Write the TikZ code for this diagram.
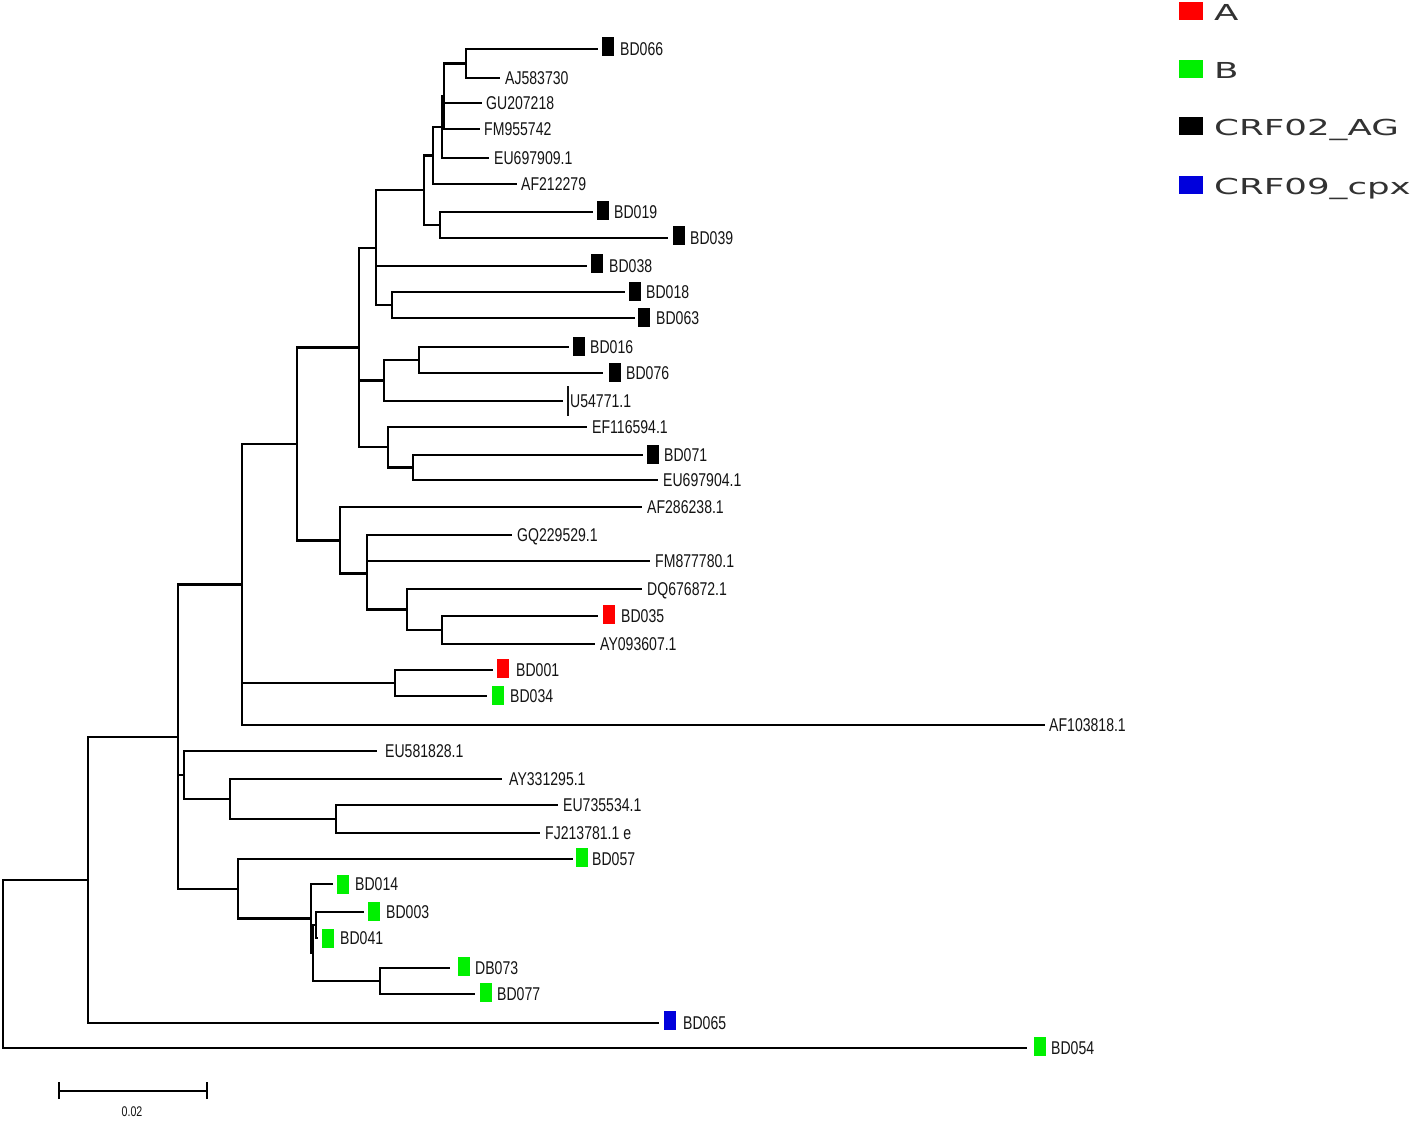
\documentclass[tikz,border=0pt]{standalone}
\usepackage{fontspec}
\setmainfont{Liberation Sans}
\newfontfamily\treefont[FakeStretch=0.76]{Liberation Sans}
\newfontfamily\legfont[FakeStretch=1.62]{DejaVu Sans}
\definecolor{mkred}{RGB}{255,0,0}
\definecolor{mkgreen}{RGB}{0,240,0}
\definecolor{mkblue}{RGB}{0,0,220}
\definecolor{mkblack}{RGB}{0,0,0}
\definecolor{labgray}{RGB}{20,20,20}
\definecolor{leggray}{RGB}{50,50,50}
\begin{document}
\begin{tikzpicture}[x=1pt,y=-1pt,
  br/.style={line width=2.2pt, black},
  lab/.style={anchor=west, inner sep=0pt, text=labgray, font=\treefont\fontsize{18.5}{20}\selectfont, text height=13pt, text depth=0pt},
  mk/.style={anchor=west, inner sep=0pt, minimum width=12pt, minimum height=19pt, draw=none},
  legbox/.style={anchor=west, inner sep=0pt, minimum width=24pt, minimum height=18pt},
  leglab/.style={anchor=west, inner sep=0pt, text=leggray, font=\legfont\fontsize{22}{24}\selectfont, text height=16pt, text depth=0pt},
  scl/.style={inner sep=0pt, text=labgray, font=\treefont\fontsize{14}{16}\selectfont}]
\fill[white] (0,0) rectangle (1418,1123);
\useasboundingbox (0,0) rectangle (1418,1123);

% leaves: tip coordinate and label
\foreach \n/\tx/\ty/\lx/\tt in {
 1/598/49/620/BD066, 2/500/78/505/AJ583730, 3/482/103/486/GU207218, 4/480/129/484/FM955742,
 5/489/158/494/EU697909.1, 6/517/184/521/AF212279, 7/593/212/614/BD019, 8/668/238/690/BD039,
 9/587/266/609/BD038, 10/625/292/646/BD018, 11/635/318/656/BD063, 12/569/347/590/BD016,
 13/603/373/626/BD076, 14/563/401/570/U54771.1, 15/587/427/592/EF116594.1, 16/643/455/664/BD071,
 17/658/480/663/EU697904.1, 18/642/507/647/AF286238.1, 19/512/535/517/GQ229529.1, 20/650/561/655/FM877780.1,
 21/642/589/647/DQ676872.1, 22/598/616/621/BD035, 23/595/644/600/AY093607.1, 24/493/670/516/BD001,
 25/487/696/510/BD034, 26/1045/725/1049/AF103818.1, 27/377/751/385/EU581828.1, 28/502/779/509/AY331295.1,
 29/558/805/563/EU735534.1, 30/540/833/545/{FJ213781.1 e}, 31/573/859/592/BD057, 32/333/884/355/BD014,
 33/364/912/386/BD003, 34/318/938/340/BD041, 35/450/968/475/DB073, 36/475/994/497/BD077,
 37/659/1023/683/BD065, 38/1027/1048/1051/BD054}
{
  \coordinate (t\n) at (\tx,\ty);
  \node[lab] (l\n) at (\lx,\ty) {\tt};
}

% colour markers
\foreach \n/\bx/\by/\c in {
 1/602/47/mkblack, 7/597/211/mkblack, 8/673/236/mkblack, 9/591/264/mkblack, 10/629/291/mkblack,
 11/638/317/mkblack, 12/573/346/mkblack, 13/609/372/mkblack, 16/647/454/mkblack,
 22/603/614/mkred, 24/497/668/mkred, 25/492/695/mkgreen, 31/576/857/mkgreen, 32/337/884/mkgreen,
 33/368/911/mkgreen, 34/322/938/mkgreen, 35/458/966/mkgreen, 36/480/992/mkgreen,
 37/664/1020/mkblue, 38/1034/1046/mkgreen}
{
  \node[mk, fill=\c] (b\n) at (\bx,\by) {};
}

% small tick before U54771.1
\coordinate (u1) at (568,386);
\coordinate (u2) at (568,416);
\draw[line width=1.2pt, labgray] (u1) -- (u2);

% internal nodes
\coordinate (N1) at (466,63.5);
\coordinate (N2) at (444,96.25);
\coordinate (N3) at (442,127);
\coordinate (N4) at (433,155.5);
\coordinate (N5) at (440,225);
\coordinate (N6) at (424,190.25);
\coordinate (N8) at (392,305);
\coordinate (N7) at (376,248);
\coordinate (N11) at (419,360);
\coordinate (N10) at (384,380.5);
\coordinate (N13) at (413,467.5);
\coordinate (N12) at (388,447.25);
\coordinate (N9) at (359,347.5);
\coordinate (N18) at (442,630);
\coordinate (N17) at (407,609.5);
\coordinate (N16) at (367,573.5);
\coordinate (N15) at (340,540.5);
\coordinate (N14) at (297,444);
\coordinate (N19) at (395,683);
\coordinate (N20) at (242,584.5);
\coordinate (N26) at (336,819);
\coordinate (N25) at (230,799);
\coordinate (N21) at (184,775);
\coordinate (N28) at (316,925);
\coordinate (N30) at (380,981);
\coordinate (N29) at (313,953);
\coordinate (N27) at (311,918.5);
\coordinate (N24) at (238,889);
\coordinate (N23) at (178,736.7);
\coordinate (N22) at (88,880);
\coordinate (R) at (3,964);

% branches
\draw[br] (N1) |- (t1) (N1) |- (t2);
\draw[br] (N2) |- (N1) (N2) |- (t3) (N2) |- (t4);
\draw[br] (N3) |- (N2) (N3) |- (t5);
\draw[br] (N4) |- (N3) (N4) |- (t6);
\draw[br] (N5) |- (t7) (N5) |- (t8);
\draw[br] (N6) |- (N4) (N6) |- (N5);
\draw[br] (N8) |- (t10) (N8) |- (t11);
\draw[br] (N7) |- (N6) (N7) |- (t9) (N7) |- (N8);
\draw[br] (N11) |- (t12) (N11) |- (t13);
\draw[br] (N10) |- (N11) (N10) |- (t14);
\draw[br] (N13) |- (t16) (N13) |- (t17);
\draw[br] (N12) |- (t15) (N12) |- (N13);
\draw[br] (N9) |- (N7) (N9) |- (N10) (N9) |- (N12);
\draw[br] (N18) |- (t22) (N18) |- (t23);
\draw[br] (N17) |- (t21) (N17) |- (N18);
\draw[br] (N16) |- (t19) (N16) |- (t20) (N16) |- (N17);
\draw[br] (N15) |- (t18) (N15) |- (N16);
\draw[br] (N14) |- (N9) (N14) |- (N15);
\draw[br] (N19) |- (t24) (N19) |- (t25);
\draw[br] (N20) |- (N14) (N20) |- (N19) (N20) |- (t26);
\draw[br] (N26) |- (t29) (N26) |- (t30);
\draw[br] (N25) |- (t28) (N25) |- (N26);
\draw[br] (N21) |- (t27) (N21) |- (N25);
\draw[br] (N28) |- (t33) (N28) |- (t34);
\draw[br] (N30) |- (t35) (N30) |- (t36);
\draw[br] (N29) |- (N28) (N29) |- (N30);
\draw[br] (N27) |- (t32) (N27) |- (N29);
\draw[br] (N24) |- (t31) (N24) |- (N27);
\draw[br] (N23) |- (N20) (N23) |- (N21) (N23) |- (N24);
\draw[br] (N22) |- (N23) (N22) |- (t37);
\draw[br] (R) |- (N22) (R) |- (t38);

% scale bar
\coordinate (s1) at (59,1091);
\coordinate (s2) at (207,1091);
\draw[br] (s1) -- (s2);
\draw[line width=1.8pt] ([yshift=-8pt]s1) -- ([yshift=9pt]s1);
\draw[line width=1.8pt] ([yshift=-8pt]s2) -- ([yshift=9pt]s2);
\node[scl] (sl) at (132,1112) {0.02};

% legend
\node[legbox, fill=mkred] (g1) at (1179,11) {};
\node[legbox, fill=mkgreen] (g2) at (1179,69) {};
\node[legbox, fill=mkblack] (g3) at (1179,126) {};
\node[legbox, fill=mkblue] (g4) at (1179,185) {};
\node[leglab] (gl1) at (1214,13) {A};
\node[leglab] (gl2) at (1214,71) {B};
\node[leglab] (gl3) at (1214,128) {CRF02\_AG};
\node[leglab] (gl4) at (1214,187) {CRF09\_cpx};
\end{tikzpicture}
\end{document}
